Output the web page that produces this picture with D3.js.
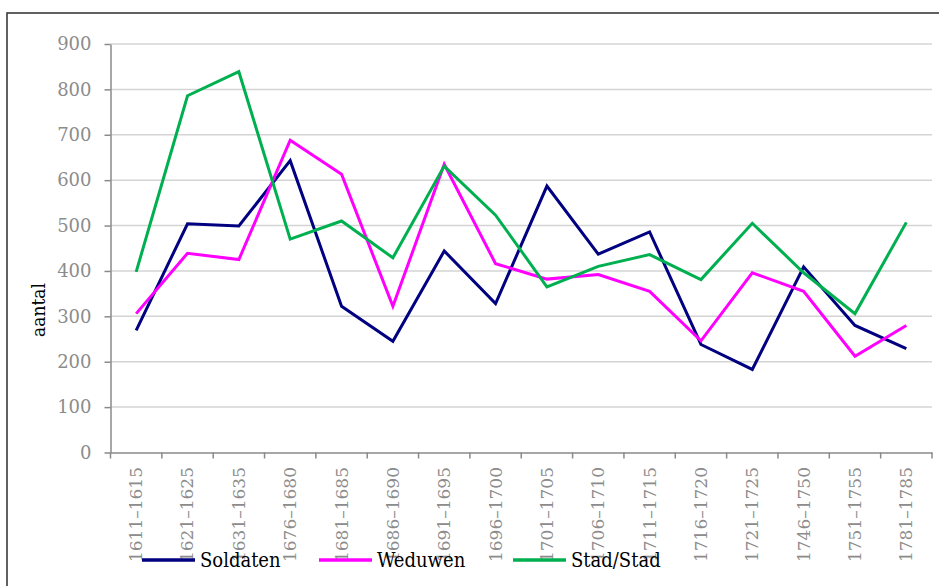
<!DOCTYPE html>
<html><head><meta charset="utf-8">
<script src="https://cdn.jsdelivr.net/npm/d3@7"></script>
<style>body{margin:0;background:#fff}svg{display:block}
svg text{font-family:"DejaVu Serif","Liberation Serif",serif !important}
svg text.cond{font-family:"DejaVu Serif Condensed","DejaVu Serif",serif !important;font-stretch:condensed}</style>
</head><body>
<svg id="c" width="939" height="586"></svg>
<script>
const categories = ["1611–1615","1621–1625","1631–1635","1676–1680","1681–1685","1686–1690","1691–1695","1696–1700","1701–1705","1706–1710","1711–1715","1716–1720","1721–1725","1746–1750","1751–1755","1781–1785"];
const soldaten = [269,504,499,643,322,245,444,328,587,437,486,238,183,409,280,229];
const weduwen  = [306,439,425,688,613,322,635,416,382,392,355,246,396,355,212,280];
const stadStad = [398,786,839,470,510,429,631,523,365,410,436,381,505,396,306,507];
const seriesNames = ["Soldaten","Weduwen","Stad/Stad"];
const seriesColors = ["#000080","#FF00FF","#00B050"];
const yTicks = [0,100,200,300,400,500,600,700,800,900];
const yLabel = "aantal";

const series = [soldaten, weduwen, stadStad];
const svg = d3.select("#c");

svg.append("rect").attr("x",7).attr("y",13).attr("width",960).attr("height",600)
  .attr("fill","none").attr("stroke","#3a3a3a").attr("stroke-width",1.6);

const L = 110.5, R = 932, T = 44, B = 452.5;
const x = d3.scaleBand().domain(categories).range([L, R]).padding(0);
const y = d3.scaleLinear().domain([0, 900]).range([B, T]);

svg.append("g").selectAll("line").data(yTicks.filter(d => d > 0)).join("line")
  .attr("x1", L).attr("x2", R).attr("y1", d => y(d)).attr("y2", d => y(d))
  .attr("stroke", "#d4d4d4").attr("stroke-width", 1.5);

const ya = svg.append("g").attr("transform", `translate(${L},0)`)
  .call(d3.axisLeft(y).tickValues(yTicks).tickSize(6).tickPadding(13).tickSizeOuter(0));
ya.attr("font-family", null);
ya.select(".domain").attr("stroke", "#8a8a8a").attr("stroke-width", 1.5);
ya.selectAll(".tick line").attr("stroke", "#8a8a8a").attr("stroke-width", 1.5);
ya.selectAll(".tick text").attr("fill", "#8c8c8c").style("font-size", "18px");

const xa = svg.append("g").attr("transform", `translate(0,${B})`)
  .call(d3.axisBottom(x).tickSize(0).tickSizeOuter(0).tickFormat(""));
xa.select(".domain").attr("stroke", "#8a8a8a").attr("stroke-width", 1.5);
const bounds = categories.map(c => x(c)).concat([x(categories[categories.length-1]) + x.bandwidth()]);
svg.append("g").selectAll("line").data(bounds).join("line")
  .attr("x1", d => d).attr("x2", d => d).attr("y1", B).attr("y2", B + 6)
  .attr("stroke", "#8a8a8a").attr("stroke-width", 1.5);
svg.append("g").selectAll("text").data(categories).join("text")
  .attr("transform", d => `translate(${x(d) + x.bandwidth()/2},467) rotate(-90)`)
  .attr("text-anchor", "end").attr("dy", "0.35em")
  .attr("fill", "#8c8c8c").style("font-size", "17px")
  .text(d => d);

svg.append("text").attr("class", "cond").attr("transform", "translate(38,310) rotate(-90)")
  .attr("text-anchor", "middle").attr("dy", "0.35em")
  .attr("fill", "#000").style("font-size", "19px").text(yLabel);

const line = d3.line().x((d, i) => x(categories[i]) + x.bandwidth()/2).y(d => y(d));
series.forEach((s, k) => {
  svg.append("path").datum(s).attr("d", line).attr("fill", "none")
    .attr("stroke", seriesColors[k]).attr("stroke-width", 3).attr("stroke-linejoin", "miter");
});

const legX = [142, 319, 513];
seriesNames.forEach((n, k) => {
  svg.append("line").attr("x1", legX[k]).attr("x2", legX[k] + 53).attr("y1", 560).attr("y2", 560)
    .attr("stroke", seriesColors[k]).attr("stroke-width", 3.5);
  svg.append("text").attr("class", "cond").attr("x", legX[k] + 58).attr("y", 567)
    .attr("fill", "#000").style("font-size", "20px").text(n);
});
</script>
</body></html>
